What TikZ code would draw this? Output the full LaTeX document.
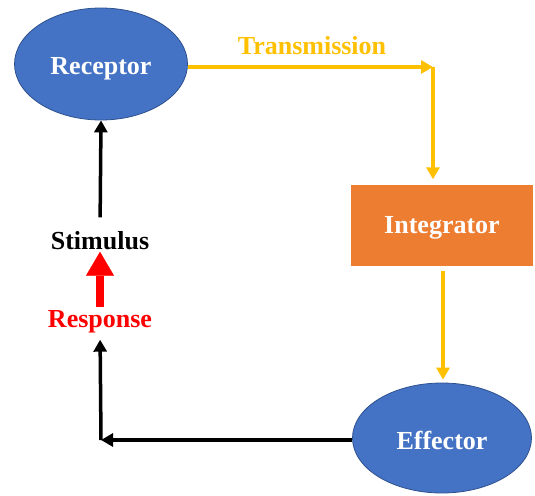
\documentclass[tikz,border=0pt]{standalone}
\usepackage{fontspec}
\setmainfont{Liberation Serif}
\usetikzlibrary{shapes.geometric, arrows.meta}

\definecolor{organblue}{HTML}{4472C4}
\definecolor{organedge}{HTML}{2F528F}
\definecolor{centreorange}{HTML}{ED7D31}
\definecolor{signalgold}{HTML}{FFC000}
\definecolor{replyred}{HTML}{FF0000}

\begin{document}
\begin{tikzpicture}[x = 1pt, y = -1pt,
	bold/.style = {font = \bfseries\fontsize{26}{30}\selectfont, text height = 17pt, text depth = 0pt},
	organ/.style = {bold, ellipse, draw = organedge, fill = organblue, line width = 0.8pt, inner sep = 0pt, text = white},
	centre/.style = {bold, rectangle, fill = centreorange, inner sep = 0pt, minimum width = 182pt, minimum height = 81pt, text = white},
	tag/.style = {bold, inner sep = 1pt},
	goldarrow/.style = {draw = signalgold, line width = 3.5pt, -{Triangle[length = 12pt, width = 13pt]}},
	blackarrow/.style = {draw = black, line width = 3.5pt, -{Triangle[length = 12pt, width = 13pt]}}]
\useasboundingbox (0,0) rectangle (535,495);

\node[organ, text height = 21pt, minimum width = 173pt, minimum height = 112pt] (rec) at (101,64) {Receptor};
\node[centre] (int) at (442,225) {Integrator};
\node[organ, text height = 23pt, minimum width = 179pt, minimum height = 110pt] (eff) at (442,438) {Effector};

\node[tag, text = signalgold] (trans) at (312,46) {Transmission};
\node[tag, text = black] (stim) at (100,241) {Stimulus};
\node[tag, text = replyred] (resp) at (100,319) {Response};

\coordinate (turn) at (433,67);
\coordinate (back) at (101,440);

% signal path
\draw[goldarrow] (rec.east |- turn) -- (turn);
\draw[goldarrow, shorten > = 5pt] (turn) -- (turn |- int.north);
\draw[goldarrow, shorten < = 5pt, shorten > = 3pt] (int.south -| 443,0) -- (eff.north -| 443,0);

% feedback path
\draw[blackarrow, line cap = butt] (eff.west |- back) -- (back);
\draw[blackarrow, shorten > = 11pt] (back) -- (resp.south);
\draw[line width = 8pt, draw = replyred, -{Triangle[length = 24pt, width = 28pt, line width = 0.5pt]}, shorten < = 2pt, shorten > = 1pt] (resp.north) -- (stim.south);
\draw[blackarrow, shorten < = 14pt] (stim.north) -- (rec.south);

\end{tikzpicture}
\end{document}
